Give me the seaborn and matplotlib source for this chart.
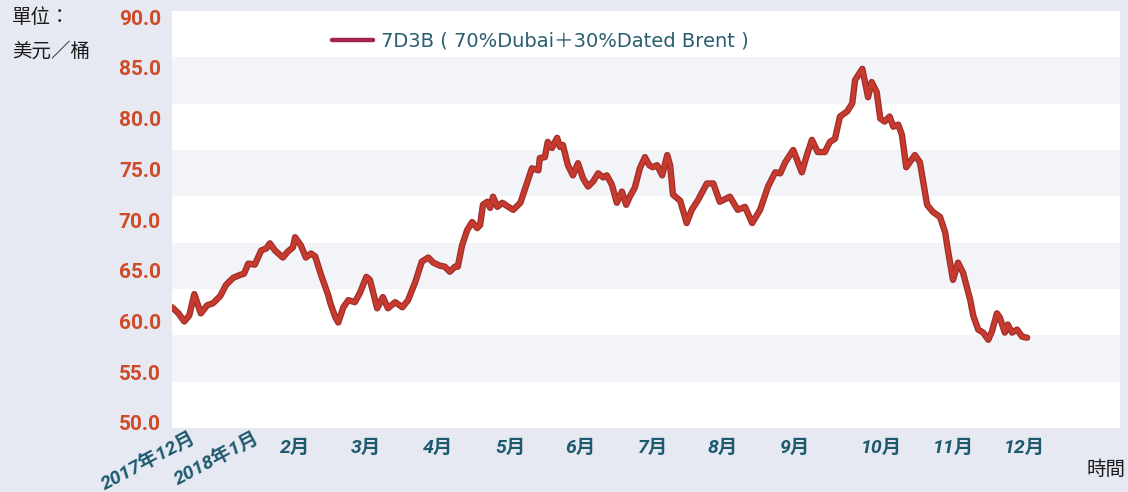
import numpy as np
import pandas as pd
import seaborn as sns
import matplotlib.pyplot as plt
import matplotlib.patheffects as pe
from matplotlib.lines import Line2D
from matplotlib.transforms import ScaledTranslation

# x = months since start of Dec 2017, y = USD/bbl
month = [0.29, 0.38, 0.46, 0.53, 0.60, 0.69, 0.78, 0.86, 0.96, 1.04,
         1.14, 1.24, 1.29, 1.35, 1.44, 1.53, 1.60, 1.65, 1.72, 1.83,
         1.90, 1.97, 2.00, 2.08, 2.15, 2.22, 2.28, 2.36, 2.46, 2.49,
         2.56, 2.60, 2.67, 2.74, 2.83, 2.90, 2.99, 3.04, 3.14, 3.22,
         3.29, 3.39, 3.49, 3.57, 3.67, 3.76, 3.85, 3.92, 4.01, 4.08,
         4.15, 4.22, 4.26, 4.32, 4.39, 4.46, 4.53, 4.57, 4.61, 4.67,
         4.71, 4.75, 4.81, 4.88, 4.94, 5.03, 5.13, 5.22, 5.29, 5.38,
         5.40, 5.47, 5.51, 5.57, 5.64, 5.68, 5.72, 5.79, 5.86, 5.93,
         6.00, 6.07, 6.14, 6.21, 6.28, 6.33, 6.40, 6.47, 6.54, 6.60,
         6.65, 6.72, 6.79, 6.86, 6.92, 6.97, 7.03, 7.10, 7.17, 7.21,
         7.25, 7.35, 7.44, 7.51, 7.60, 7.72, 7.81, 7.90, 8.04, 8.15,
         8.25, 8.35, 8.46, 8.57, 8.67, 8.74, 8.81, 8.92, 9.04, 9.11,
         9.18, 9.26, 9.36, 9.43, 9.50, 9.57, 9.67, 9.74, 9.78, 9.88,
         9.96, 10.01, 10.08, 10.13, 10.19, 10.26, 10.31, 10.38, 10.43, 10.49,
         10.54, 10.61, 10.68, 10.78, 10.86, 10.96, 11.03, 11.07, 11.14, 11.21,
         11.28, 11.38, 11.42, 11.49, 11.56, 11.63, 11.68, 11.75, 11.79, 11.86,
         11.90, 11.96, 12.03, 12.10, 12.17]
price = [61.4, 60.8, 60.0, 60.6, 62.7, 60.8, 61.6, 61.8, 62.5, 63.6,
         64.3, 64.6, 64.7, 65.7, 65.6, 67.0, 67.2, 67.7, 67.0, 66.3,
         66.9, 67.3, 68.3, 67.5, 66.3, 66.7, 66.4, 64.6, 62.6, 61.8,
         60.4, 59.9, 61.4, 62.1, 61.9, 62.8, 64.4, 64.1, 61.3, 62.4,
         61.3, 61.9, 61.4, 62.1, 63.9, 65.9, 66.3, 65.8, 65.5, 65.4,
         64.9, 65.4, 65.4, 67.5, 69.0, 69.8, 69.2, 69.5, 71.5, 71.8,
         71.2, 72.3, 71.3, 71.7, 71.4, 71.0, 71.7, 73.6, 75.1, 74.9,
         76.1, 76.2, 77.7, 77.1, 78.1, 77.2, 77.4, 75.4, 74.4, 75.6,
         74.1, 73.3, 73.8, 74.6, 74.2, 74.4, 73.5, 71.7, 72.8, 71.5,
         72.3, 73.2, 75.1, 76.2, 75.4, 75.2, 75.4, 74.4, 76.4, 75.4,
         72.5, 71.9, 69.7, 71.0, 72.0, 73.6, 73.6, 71.8, 72.3, 71.0,
         71.3, 69.7, 71.0, 73.3, 74.7, 74.6, 75.7, 76.9, 74.7, 76.4,
         77.9, 76.7, 76.7, 77.7, 78.0, 80.2, 80.7, 81.5, 83.8, 84.9,
         82.1, 83.6, 82.6, 80.0, 79.7, 80.2, 79.2, 79.4, 78.4, 75.2,
         75.7, 76.4, 75.7, 71.5, 70.8, 70.3, 68.8, 67.0, 64.1, 65.8,
         64.8, 62.1, 60.6, 59.2, 58.9, 58.2, 59.0, 60.8, 60.4, 58.9,
         59.7, 58.9, 59.2, 58.5, 58.4]

tick_pos = [0.54, 1.42, 2.0, 2.99, 3.99, 4.99, 5.96, 6.97, 7.94, 8.94, 10.14, 11.14, 12.13]
tick_labels = ["2017年12月", "2018年1月", "2月", "3月", "4月", "5月", "6月",
               "7月", "8月", "9月", "10月", "11月", "12月"]
y_ticks = [50, 55, 60, 65, 70, 75, 80, 85, 90]
series_name = "7D3B ( 70%Dubai＋30%Dated Brent )"

df = pd.DataFrame({"month": month, "price": price})

sns.set_style("white")
plt.rcParams["font.family"] = ["Roboto", "Noto Sans CJK TC", "DejaVu Sans"]

bg = "#e6e8f2"
fig = plt.figure(figsize=(11.28, 4.92), dpi=100, facecolor=bg)
ax = fig.add_axes([172 / 1128, 1 - 428 / 492, 948 / 1128, 417 / 492])
ax.set_facecolor("white")

ylo, yhi = 49.5, 90.6
ax.set_ylim(ylo, yhi)
ax.set_xlim(0.29, 13.46)

# alternating bands (9 equal stripes, not tied to the ticks)
for k in range(1, 9, 2):
    ax.axhspan(ylo + (yhi - ylo) * (9 - k - 1) / 9, ylo + (yhi - ylo) * (9 - k) / 9,
               color="#f3f4f8", lw=0, zorder=0)

sns.lineplot(data=df, x="month", y="price", ax=ax, color="#c8392e", lw=2.8,
             zorder=3, legend=False,
             path_effects=[pe.Stroke(linewidth=4.6, foreground="#9e302c"), pe.Normal()])

for s in ax.spines.values():
    s.set_visible(False)

ax.set_yticks(y_ticks)
ax.set_yticklabels([f"{v:.1f}" for v in y_ticks], color="#cf4a26",
                   fontsize=15, fontweight="bold")
ax.tick_params(axis="y", length=0, pad=8)

ax.set_xticks(tick_pos)
ax.set_xticklabels(tick_labels, color="#1e5a6e", fontsize=14,
                   fontweight="bold", fontstyle="italic")
ax.tick_params(axis="x", length=0, pad=8)
for lab in ax.get_xticklabels()[:2]:
    lab.set_rotation(28)
    lab.set_ha("right")
    lab.set_rotation_mode("anchor")
    lab.set_transform(lab.get_transform() + ScaledTranslation(0, 7.5 / 72, fig.dpi_scale_trans))
ax.set_xlabel("")
ax.set_ylabel("")

handle = Line2D([], [], color="#a3234f", lw=3.2, solid_capstyle="round")
leg = ax.legend(handles=[handle], labels=[series_name], loc="center left",
                bbox_to_anchor=(0.1688, 0.928), frameon=False, borderaxespad=0,
                borderpad=0, handlelength=2.1, handletextpad=0.4,
                prop={"family": ["DejaVu Sans", "Noto Sans CJK TC"], "size": 14})
for t in leg.get_texts():
    t.set_color("#2a5d70")

fig.text(12 / 1128, 1 - 7 / 492, "單位：\n美元／桶", ha="left", va="top",
         fontsize=14, family="Noto Sans CJK TC", linespacing=1.8, color="#1a1a1a")
fig.text(1125 / 1128, 1 - 469 / 492, "時間", ha="right", va="center",
         fontsize=14, family="Noto Sans CJK TC", color="#1a1a1a")

fig.savefig("out.png", dpi=100, facecolor=bg)
